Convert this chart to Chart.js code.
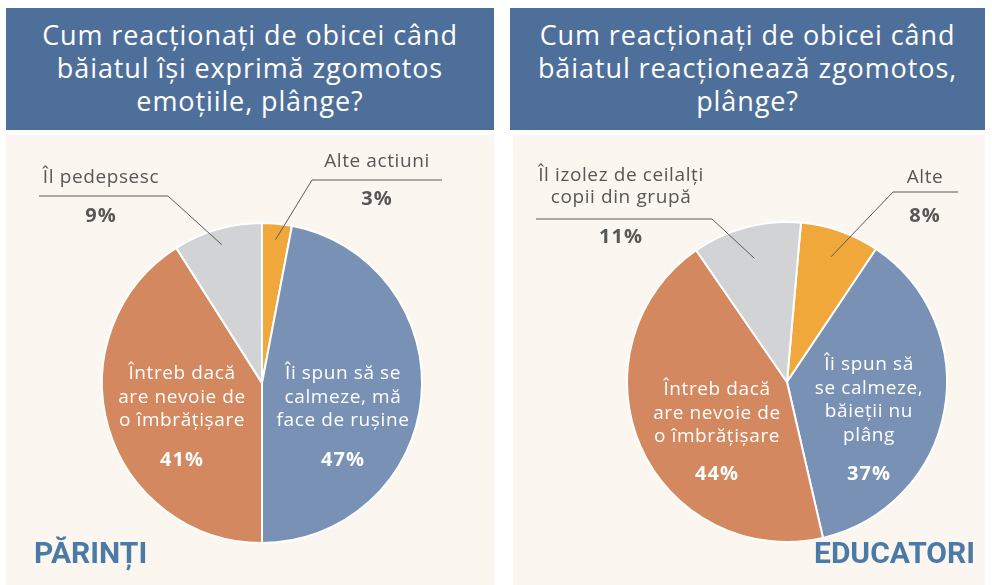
<!DOCTYPE html>
<html>
<head>
<meta charset="utf-8">
<script src="https://cdn.jsdelivr.net/npm/chart.js@4"></script>
<style>
  html, body { margin: 0; padding: 0; background: #fff; }
  body { width: 992px; height: 585px; position: relative; overflow: hidden; font-family: 'Open Sans', sans-serif; }
  .header { position: absolute; top: 8px; height: 122px; background: #4f6f9b; color: #fff;
            font-size: 27px; letter-spacing: 0.9px; line-height: 33px; text-align: center;
            box-sizing: border-box; padding-top: 10px; }
  .panel { position: absolute; top: 135px; height: 450px; background: #fbf6ef; }
  .panel canvas { position: absolute; left: 0; top: 0; }
  .tag { position: absolute; font-family: Roboto, sans-serif; font-weight: 700; font-size: 30px; color: #4c7aa7; }
</style>
</head>
<body>
<div class="header" style="left:6px; width:488px;">Cum reacționați de obicei când<br>băiatul își exprimă zgomotos<br>emoțiile, plânge?</div>
<div class="header" style="left:510px; width:475px;">Cum reacționați de obicei când<br>băiatul reacționează zgomotos,<br>plânge?</div>

<div class="panel" style="left:6px; width:488px;">
  <canvas id="pieParinti" width="488" height="450"></canvas>
  <div class="tag" style="left:28px; top:400px;">PĂRINȚI</div>
</div>
<div class="panel" style="left:513px; width:472px;">
  <canvas id="pieEducatori" width="472" height="450"></canvas>
  <div class="tag" style="right:10px; top:400px;">EDUCATORI</div>
</div>

<script>
// --- data ---
const parintiLabels = ['Alte actiuni', 'Îi spun să se\ncalmeze, mă\nface de rușine', 'Întreb dacă\nare nevoie de\no îmbrățișare', 'Îl pedepsesc'];
const parintiValues = [3, 47, 41, 9];

const educatoriLabels = ['Alte', 'Îi spun să\nse calmeze,\nbăieții nu\nplâng', 'Întreb dacă\nare nevoie de\no îmbrățișare', 'Îl izolez de ceilalți\ncopii din grupă'];
const educatoriValues = [8, 37, 44, 11];

const sliceColors = ['#f1a83a', '#7a91b6', '#d4885f', '#d1d3d5'];

// label placement, relative to the pie centre
const parintiLayout = [
  { out: true, tx: 115, ty: -216, lineY: -203, x1: 50, x2: 180, anchor: 0.9, py: -178 },
  { tx: 81, ty: -4, py: 83 },
  { tx: -80, ty: -4, py: 83 },
  { out: true, tx: -161, ty: -200, lineY: -187, x1: -94, x2: -223, anchor: 0.9, py: -161 }
];
const educatoriLayout = [
  { out: true, tx: 138, ty: -199, lineY: -190, x1: 106, x2: 171, anchor: 0.83, py: -160 },
  { tx: 82, ty: -12, py: 98 },
  { tx: -70, ty: 13, py: 98 },
  { out: true, tx: -166, ty: -201, lineY: -163, x1: -75, x2: -251, anchor: 0.8, py: -139 }
];

const pieLabels = {
  id: 'pieLabels',
  afterDatasetsDraw(chart, args, opts) {
    const ctx = chart.ctx;
    const meta = chart.getDatasetMeta(0);
    const values = chart.data.datasets[0].data;
    const lineH = 23.5;
    ctx.save();
    ctx.textAlign = 'center';
    ctx.textBaseline = 'alphabetic';
    meta.data.forEach((arc, i) => {
      const L = opts.layout[i];
      const p = arc.getProps(['x', 'y', 'startAngle', 'endAngle', 'outerRadius'], true);
      const cx = p.x, cy = p.y;
      const lines = chart.data.labels[i].split('\n');
      ctx.fillStyle = L.out ? '#575757' : '#ffffff';
      ctx.font = '19px "Open Sans"';
      ctx.letterSpacing = '0.6px';
      if (L.out) {
        lines.forEach((t, k) => ctx.fillText(t, cx + L.tx, cy + L.ty + k * 22));
        const mid = (p.startAngle + p.endAngle) / 2;
        const ax = cx + Math.cos(mid) * p.outerRadius * L.anchor;
        const ay = cy + Math.sin(mid) * p.outerRadius * L.anchor;
        ctx.strokeStyle = '#5a5a5a';
        ctx.lineWidth = 1;
        ctx.beginPath();
        ctx.moveTo(ax, ay);
        ctx.lineTo(cx + L.x1, cy + L.lineY);
        ctx.lineTo(cx + L.x2, cy + L.lineY);
        ctx.stroke();
      } else {
        lines.forEach((t, k) => ctx.fillText(t, cx + L.tx, cy + L.ty + k * lineH));
      }
      ctx.font = 'bold 20px "Open Sans"';
      ctx.letterSpacing = '1px';
      ctx.fillText(values[i] + '%', cx + L.tx, cy + L.py);
    });
    ctx.restore();
  }
};

function makePie(id, labels, values, layout, rotation, padding) {
  return new Chart(document.getElementById(id), {
    type: 'pie',
    data: {
      labels: labels,
      datasets: [{
        data: values,
        backgroundColor: sliceColors,
        borderColor: '#ffffff',
        borderWidth: 2
      }]
    },
    options: {
      responsive: false,
      animation: false,
      rotation: rotation,
      layout: { padding: padding },
      plugins: {
        legend: { display: false },
        tooltip: { enabled: false },
        pieLabels: { layout: layout }
      }
    },
    plugins: [pieLabels]
  });
}

makePie('pieParinti', parintiLabels, parintiValues, parintiLayout, 0, { left: 95, right: 71, top: 87, bottom: 41 });
makePie('pieEducatori', educatoriLabels, educatoriValues, educatoriLayout, 5, { left: 113, right: 37, top: 86, bottom: 42 });
</script>
</body>
</html>
